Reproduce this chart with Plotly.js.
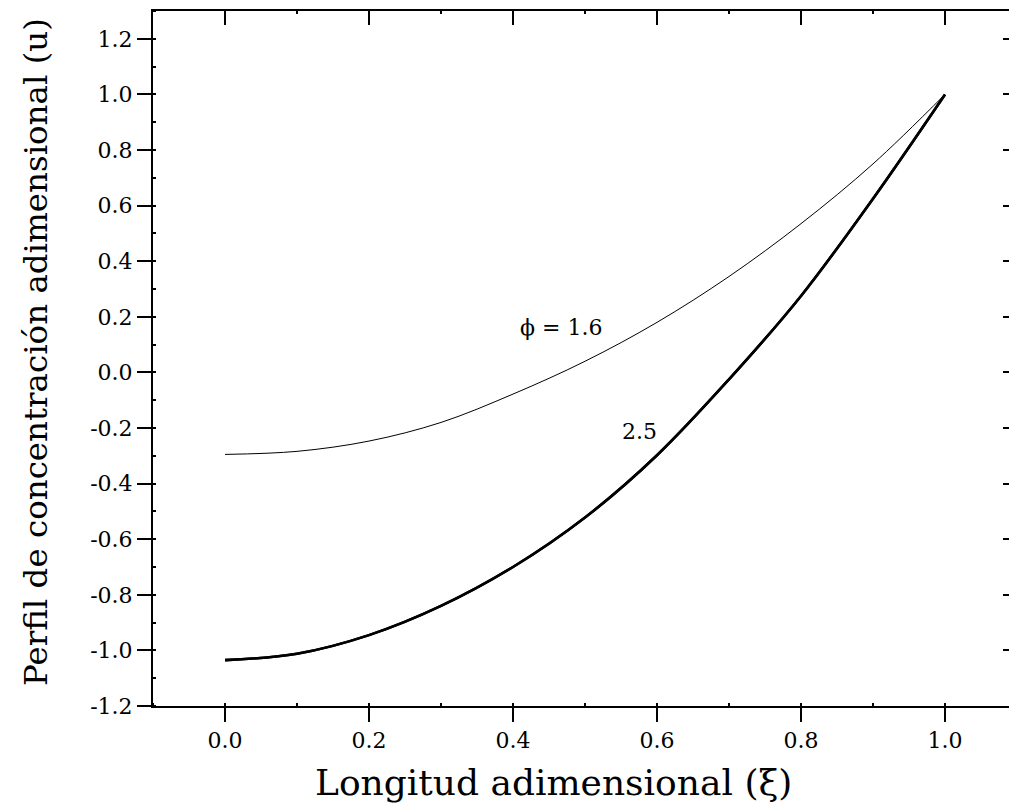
<!DOCTYPE html>
<html>
<head>
<meta charset="utf-8">
<script src="https://cdn.plot.ly/plotly-3.0.1.min.js"></script>
<style>
html,body{margin:0;padding:0;overflow:hidden;background:#fff;}
#chart{width:1030px;height:808px;}
</style>
</head>
<body>
<div id="chart"></div>
<script>
const xi = [0.0, 0.1, 0.2, 0.3, 0.4, 0.5, 0.6, 0.7, 0.8, 0.9, 1.0];
const uPhi16 = [-0.295, -0.284, -0.247, -0.180, -0.078, 0.040, 0.180, 0.345, 0.535, 0.750, 1.0];
const uPhi25 = [-1.035, -1.012, -0.945, -0.840, -0.700, -0.522, -0.298, -0.025, 0.275, 0.625, 1.0];
const seriesLabels = ["\u03d5 = 1.6", "2.5"];
const labelPos = [[0.467, 0.160], [0.576, -0.214]];
const xTickVals = [0.0, 0.2, 0.4, 0.6, 0.8, 1.0];
const xTickText = ["0.0", "0.2", "0.4", "0.6", "0.8", "1.0"];
const yTickVals = [-1.2, -1.0, -0.8, -0.6, -0.4, -0.2, 0.0, 0.2, 0.4, 0.6, 0.8, 1.0, 1.2];
const yTickText = ["-1.2", "-1.0", "-0.8", "-0.6", "-0.4", "-0.2", "0.0", "0.2", "0.4", "0.6", "0.8", "1.0", "1.2"];
const xTitle = "Longitud adimensional (\u03be)";
const yTitle = "Perfil de concentraci\u00f3n adimensional (u)";

const FONT = "DejaVu Serif, Liberation Serif, serif";
const XR = [-0.1, 1.1];
const YR = [-1.2, 1.3];

const thick = {color: "#000", width: 2.6, shape: "spline"};
const traces = [
  {x: xi, y: uPhi16, xaxis: "x2", yaxis: "y", mode: "lines", line: {color: "#000", width: 1, shape: "spline"}, hoverinfo: "skip", showlegend: false},
  {x: xi, y: uPhi25, xaxis: "x", yaxis: "y", mode: "lines", line: thick, hoverinfo: "skip", showlegend: false},
  {x: xi, y: uPhi25, xaxis: "x", yaxis: "y2", mode: "lines", line: thick, hoverinfo: "skip", showlegend: false}
];

const minorTicks = {ticks: "inside", ticklen: 3, tickwidth: 2, tickcolor: "#000"};
const common = {showgrid: false, zeroline: false, showline: true, linecolor: "#000", linewidth: 2,
  tickcolor: "#000", tickwidth: 2, ticklen: 14, fixedrange: true};

const layout = {
  width: 1030, height: 808,
  margin: {l: 153, r: 13, t: 11, b: 102},
  paper_bgcolor: "#fff", plot_bgcolor: "#fff",
  font: {family: FONT, color: "#000", size: 22},
  xaxis: Object.assign({}, common, {range: XR, anchor: "y", tickmode: "array", tickvals: xTickVals, ticktext: xTickText, ticks: "outside",
    tickfont: {family: FONT, size: 22},
    minor: Object.assign({dtick: 0.1, tick0: 0}, minorTicks)}),
  yaxis: Object.assign({}, common, {range: YR, anchor: "x", tickmode: "array", tickvals: yTickVals, ticktext: yTickText, ticks: "outside",
    tickfont: {family: FONT, size: 22},
    minor: Object.assign({dtick: 0.1, tick0: 0}, minorTicks)}),
  xaxis2: Object.assign({}, common, {overlaying: "x", side: "top", anchor: "y", range: XR, tickmode: "linear", tick0: 0, dtick: 0.2,
    ticks: "inside", showticklabels: false,
    minor: Object.assign({dtick: 0.1, tick0: 0}, minorTicks)}),
  yaxis2: Object.assign({}, common, {overlaying: "y", side: "right", anchor: "x", range: YR, tickmode: "linear", tick0: 0, dtick: 0.2,
    ticks: "inside", showticklabels: false,
    minor: Object.assign({dtick: 0.1, tick0: 0}, minorTicks)}),
  annotations: [
    {x: labelPos[0][0], y: labelPos[0][1], xref: "x", yref: "y", text: seriesLabels[0], showarrow: false,
      font: {family: FONT, size: 22, color: "#000"}},
    {x: labelPos[1][0], y: labelPos[1][1], xref: "x", yref: "y", text: seriesLabels[1], showarrow: false,
      font: {family: FONT, size: 22, color: "#000"}},
    {x: 0.464, y: -0.11, xref: "paper", yref: "paper", text: xTitle, showarrow: false, yanchor: "middle",
      font: {family: FONT, size: 36, color: "#000"}},
    {x: -0.16, y: 0.509, xref: "paper", yref: "paper", text: yTitle, showarrow: false, textangle: -90,
      font: {family: FONT, size: 32.5, color: "#000"}}
  ]
};

Plotly.newPlot("chart", traces, layout, {displayModeBar: false, staticPlot: true});
</script>
</body>
</html>
